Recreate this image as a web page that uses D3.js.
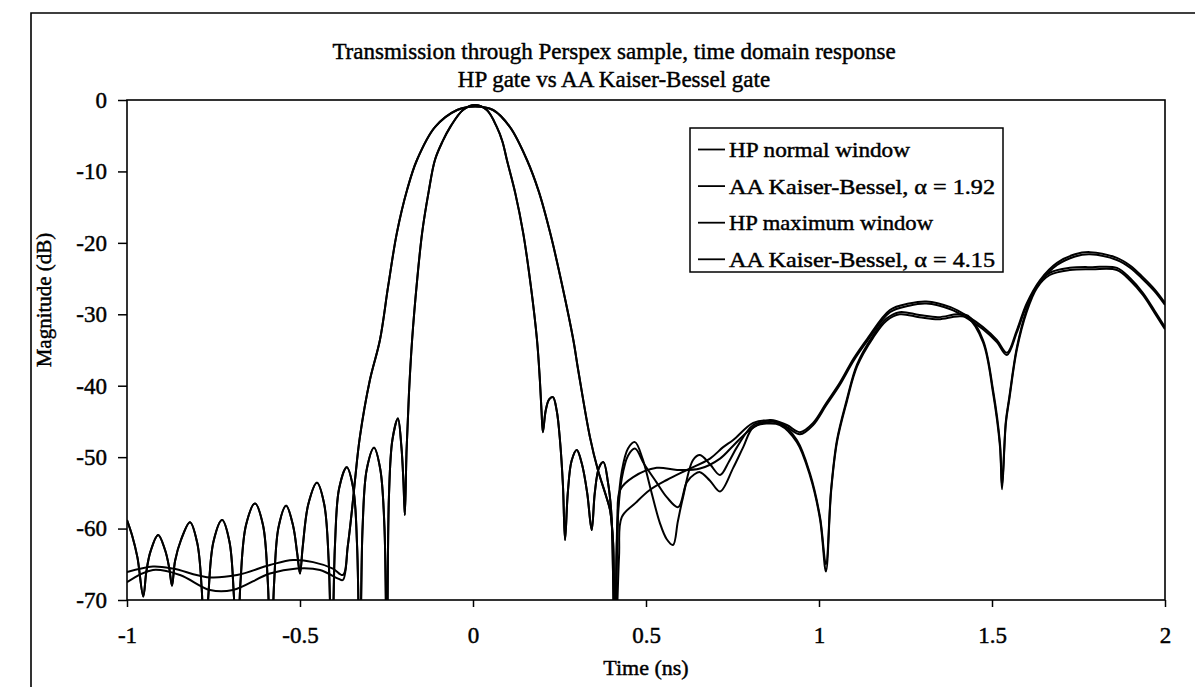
<!DOCTYPE html>
<html lang="en">
<head>
<meta charset="UTF-8">
<script src="https://d3js.org/d3.v7.min.js"></script>
<title>Transmission through Perspex sample</title>
<style>
  body { margin: 0; background: #fff; }
  svg text { font-family: "Liberation Serif", "Times New Roman", serif; fill: #000; stroke: #000; stroke-width: 0.45px; }
</style>
</head>
<body>
<svg id="chart" width="1195" height="687"></svg>
<script>
// values: [time (ns), magnitude (dB)]
// both normal-window curves overlap from -1 ns up to the null at 0.41 ns
var normalLobe = [
  [-1.000,-58.8],[-0.985,-61.0],[-0.970,-64.0],[-0.953,-69.5],[-0.944,-66.0],[-0.932,-63.2],[-0.910,-60.9],[-0.890,-63.0],[-0.878,-65.5],[-0.870,-68.0],
  [-0.861,-64.5],[-0.844,-61.6],[-0.818,-59.1],[-0.797,-62.0],[-0.784,-68.5],[-0.775,-80],
  [-0.765,-69.5],[-0.750,-61.8],[-0.725,-58.8],[-0.704,-61.8],[-0.691,-69.5],[-0.682,-80],
  [-0.672,-67.5],[-0.656,-59.5],[-0.630,-56.5],[-0.607,-59.5],[-0.593,-67.5],[-0.584,-80],
  [-0.575,-67.8],[-0.562,-59.8],[-0.540,-56.8],[-0.520,-59.6],[-0.508,-63.5],[-0.500,-66.3],
  [-0.492,-62.5],[-0.476,-56.6],[-0.451,-53.6],[-0.430,-56.6],[-0.417,-64.6],[-0.408,-80],
  [-0.399,-62.4],[-0.387,-54.4],[-0.365,-51.4],[-0.346,-54.4],[-0.335,-62.4],[-0.327,-80],
  [-0.319,-59.7],[-0.307,-51.7],[-0.286,-48.7],[-0.268,-51.7],[-0.256,-59.7],[-0.249,-80],
  [-0.243,-55.6],[-0.233,-47.6],[-0.217,-44.6],[-0.207,-48.5],[-0.201,-53.5],[-0.197,-58.1],
  [-0.192,-49.0],[-0.185,-41.0],[-0.176,-33.6],[-0.162,-25.5],[-0.147,-18.6],[-0.128,-12.8],[-0.110,-8.4],
  [-0.088,-5.8],[-0.066,-3.8],[-0.029,-1.4],[0.005,-0.7],[0.040,-1.4],[0.069,-3.8],[0.085,-5.8],[0.098,-8.4],
  [0.122,-13.0],[0.145,-18.6],[0.167,-26.0],[0.185,-33.6],[0.193,-39.0],[0.198,-43.5],[0.202,-46.5],
  [0.210,-43.5],[0.220,-41.9],[0.231,-41.6],[0.242,-43.5],[0.252,-48.0],[0.260,-54.0],[0.266,-61.6],
  [0.274,-55.0],[0.285,-50.5],[0.300,-49.0],[0.315,-51.0],[0.330,-55.0],[0.343,-60.2],
  [0.352,-55.0],[0.364,-51.5],[0.377,-50.7],[0.390,-53.5],[0.400,-58.0],[0.410,-80]
];
var hpNormalTail = [
  [0.418,-58.0],[0.430,-52.0],[0.448,-48.8],[0.468,-47.9],[0.490,-50.2],[0.512,-54.2],[0.540,-59.2],[0.560,-61.5],
  [0.578,-62.3],[0.592,-59.0],[0.607,-55.6],[0.636,-50.4],[0.656,-49.7],[0.685,-51.0],[0.714,-52.5],[0.740,-50.6],
  [0.763,-48.6],[0.810,-45.5],[0.850,-45.1],[0.887,-45.2],[0.936,-47.6],[0.974,-52.3],[1.003,-58.4],[1.020,-65.0],
  [1.035,-54.5],[1.052,-47.6],[1.080,-42.0],[1.110,-37.0],[1.156,-33.0],[1.195,-30.6],[1.233,-29.7],[1.290,-30.1],
  [1.345,-30.4],[1.400,-30.0],[1.430,-30.2],[1.474,-33.6],[1.503,-40.6],[1.523,-48.0],[1.529,-54.0],[1.540,-45.0],
  [1.550,-41.6],[1.572,-34.6],[1.600,-29.4],[1.630,-26.0],[1.667,-24.2],[1.725,-23.5],[1.790,-23.4],[1.861,-23.5],
  [1.900,-25.0],[1.936,-27.0],[1.970,-29.5],[2.000,-31.8]
];
var aa192Tail = [
  [0.418,-59.0],[0.430,-53.0],[0.448,-49.8],[0.468,-48.8],[0.495,-51.0],[0.530,-53.5],[0.560,-55.6],[0.593,-57.0],
  [0.618,-53.5],[0.640,-52.4],[0.656,-52.1],[0.685,-53.3],[0.714,-54.8],[0.752,-51.5],[0.781,-48.6],[0.810,-45.8],
  [0.850,-45.3],[0.887,-45.5],[0.936,-47.9],[0.974,-52.6],[1.003,-58.7],[1.020,-66.0],[1.035,-54.8],[1.052,-47.9],
  [1.080,-42.3],[1.110,-37.3],[1.156,-33.3],[1.195,-30.9],[1.233,-30.0],[1.290,-30.4],[1.345,-30.7],[1.400,-30.3],
  [1.430,-30.5],[1.474,-33.9],[1.503,-41.0],[1.523,-48.5],[1.529,-54.5],[1.540,-45.3],[1.550,-41.9],[1.572,-34.9],
  [1.600,-29.7],[1.630,-26.3],[1.667,-24.5],[1.725,-23.8],[1.790,-23.7],[1.861,-23.8],[1.900,-25.3],[1.936,-27.3],
  [1.970,-29.8],[2.000,-32.1]
];
// maximum-window curves: separate floors on the left, shared wide main lobe
var hpMaxFloor = [
  [-1.000,-66.1],[-0.925,-65.3],[-0.867,-65.6],[-0.769,-66.8],[-0.682,-66.5],[-0.587,-65.1],
  [-0.520,-64.4],[-0.462,-64.7],[-0.405,-65.6],[-0.376,-66.5]
];
var aa415Floor = [
  [-1.000,-67.5],[-0.925,-65.8],[-0.847,-66.5],[-0.760,-68.6],[-0.694,-68.6],[-0.587,-66.3],
  [-0.509,-65.6],[-0.442,-65.8],[-0.390,-67.0],[-0.376,-67.2]
];
var wideLobe = [
  [-0.362,-62.5],[-0.350,-57.5],[-0.341,-53.2],[-0.327,-47.2],[-0.298,-39.2],[-0.269,-33.6],[-0.245,-26.0],
  [-0.220,-18.6],[-0.190,-12.5],[-0.162,-8.4],[-0.110,-3.8],[-0.046,-1.4],[0.006,-0.9],[0.058,-1.4],
  [0.107,-3.8],[0.156,-8.4],[0.190,-12.8],[0.223,-18.6],[0.258,-26.0],[0.290,-33.6],[0.304,-37.8],
  [0.338,-47.2],[0.361,-51.8],[0.385,-55.5],[0.396,-57.4],[0.405,-62.0],[0.410,-80]
];
var hpMaxTail = [
  [0.418,-60.0],[0.425,-54.6],[0.463,-52.8],[0.531,-51.5],[0.590,-51.8],[0.656,-51.6],[0.714,-50.2],[0.752,-48.4],
  [0.800,-46.2],[0.858,-44.8],[0.907,-45.5],[0.945,-46.5],[0.983,-45.2],[1.020,-42.5],[1.060,-39.6],[1.100,-36.2],
  [1.140,-33.4],[1.205,-29.4],[1.260,-28.5],[1.310,-28.2],[1.380,-29.0],[1.430,-30.3],[1.474,-31.8],[1.514,-33.6],
  [1.543,-35.4],[1.572,-32.2],[1.600,-28.5],[1.639,-25.2],[1.688,-22.8],[1.740,-21.6],[1.783,-21.3],[1.861,-22.1],
  [1.900,-23.2],[1.936,-24.8],[1.970,-26.5],[2.000,-28.4]
];
var aa415Tail = [
  [0.422,-64.0],[0.430,-58.4],[0.470,-56.4],[0.511,-54.6],[0.560,-53.2],[0.618,-51.8],[0.685,-50.2],[0.723,-48.6],
  [0.752,-47.6],[0.810,-45.2],[0.858,-44.9],[0.907,-45.8],[0.945,-46.8],[0.983,-45.5],[1.020,-42.8],[1.060,-39.9],
  [1.100,-36.5],[1.140,-33.7],[1.205,-29.7],[1.260,-28.8],[1.310,-28.5],[1.380,-29.3],[1.430,-30.6],[1.474,-32.1],
  [1.514,-33.9],[1.543,-35.7],[1.572,-32.5],[1.600,-28.8],[1.639,-25.5],[1.688,-23.1],[1.740,-21.9],[1.783,-21.6],
  [1.861,-22.4],[1.900,-23.5],[1.936,-25.1],[1.970,-26.8],[2.000,-28.7]
];

var seriesNames = ["HP normal window", "AA Kaiser-Bessel, \u03b1 = 1.92", "HP maximum window", "AA Kaiser-Bessel, \u03b1 = 4.15"];
var seriesData = [
  normalLobe.concat(hpNormalTail),
  normalLobe.concat(aa192Tail),
  hpMaxFloor.concat(wideLobe, hpMaxTail),
  aa415Floor.concat(wideLobe, aa415Tail)
];
var xTicks = [-1, -0.5, 0, 0.5, 1, 1.5, 2];
var yTicks = [0, -10, -20, -30, -40, -50, -60, -70];
var titleLines = ["Transmission through Perspex sample, time domain response", "HP gate vs AA Kaiser-Bessel gate"];

var svg = d3.select("#chart");
var plotL = 127, plotR = 1165, plotT = 100, plotB = 600;

var x = d3.scaleLinear().domain([-1, 2]).range([plotL, plotR]);
var y = d3.scaleLinear().domain([-70, 0]).range([plotB, plotT]);

// outer chart frame (scanned, right side cut off)
svg.append("path")
  .attr("d", "M31,687V13H1195")
  .attr("fill", "none").attr("stroke", "#000").attr("stroke-width", 1.6);

// titles
svg.selectAll(".title").data(titleLines).enter().append("text")
  .attr("x", 614).attr("y", function(d, i) { return 59 + i * 28; })
  .attr("text-anchor", "middle").attr("font-size", 23)
  .text(function(d) { return d; });

svg.append("defs").append("clipPath").attr("id", "plotclip")
  .append("rect").attr("x", plotL).attr("y", plotT).attr("width", plotR - plotL).attr("height", plotB - plotT);

// axes
var yAxis = svg.append("g").attr("transform", "translate(" + plotL + ",0)")
  .call(d3.axisLeft(y).tickValues(yTicks).tickSize(9).tickPadding(11).tickFormat(function(d) { return String(d); }));
var xAxis = svg.append("g").attr("transform", "translate(0," + plotB + ")")
  .call(d3.axisBottom(x).tickValues(xTicks).tickSize(7).tickPadding(20).tickFormat(function(d) { return String(d); }));
[yAxis, xAxis].forEach(function(g) {
  g.select(".domain").remove();
  g.attr("font-family", null).attr("font-size", null);
  g.selectAll("line").attr("stroke", "#000").attr("stroke-width", 1.5);
  g.selectAll("text").attr("font-size", 23).attr("fill", "#000");
});

svg.append("text").attr("x", 646).attr("y", 675).attr("text-anchor", "middle")
  .attr("font-size", 22).text("Time (ns)");
svg.append("text").attr("transform", "translate(51,300) rotate(-90)").attr("text-anchor", "middle")
  .attr("font-size", 21).text("Magnitude (dB)");

// curves
var line = d3.line()
  .x(function(d) { return x(d[0]); })
  .y(function(d) { return y(d[1]); })
  .curve(d3.curveCatmullRom.alpha(0.5));

svg.append("g").attr("clip-path", "url(#plotclip)")
  .selectAll("path").data(seriesData).enter().append("path")
  .attr("d", line)
  .attr("fill", "none").attr("stroke", "#000").attr("stroke-width", 2)
  .attr("stroke-linejoin", "round");

// plot frame
svg.append("rect").attr("x", plotL).attr("y", plotT).attr("width", plotR - plotL).attr("height", plotB - plotT)
  .attr("fill", "none").attr("stroke", "#000").attr("stroke-width", 1.6);

// legend
var legendWidths = [181, 266, 204, 266];
var legend = svg.append("g");
legend.append("rect").attr("x", 690).attr("y", 128).attr("width", 313).attr("height", 144)
  .attr("fill", "#fff").attr("stroke", "#000").attr("stroke-width", 1.5);
var item = legend.selectAll(".item").data(seriesNames).enter().append("g")
  .attr("transform", function(d, i) { return "translate(0," + (149.5 + i * 36.6) + ")"; });
item.append("line").attr("x1", 698).attr("x2", 725).attr("stroke", "#000").attr("stroke-width", 1.8);
item.append("text").attr("x", 729).attr("y", 7.5).attr("font-size", 21)
  .attr("textLength", function(d, i) { return legendWidths[i]; })
  .attr("lengthAdjust", "spacingAndGlyphs")
  .text(function(d) { return d; });
</script>
</body>
</html>
